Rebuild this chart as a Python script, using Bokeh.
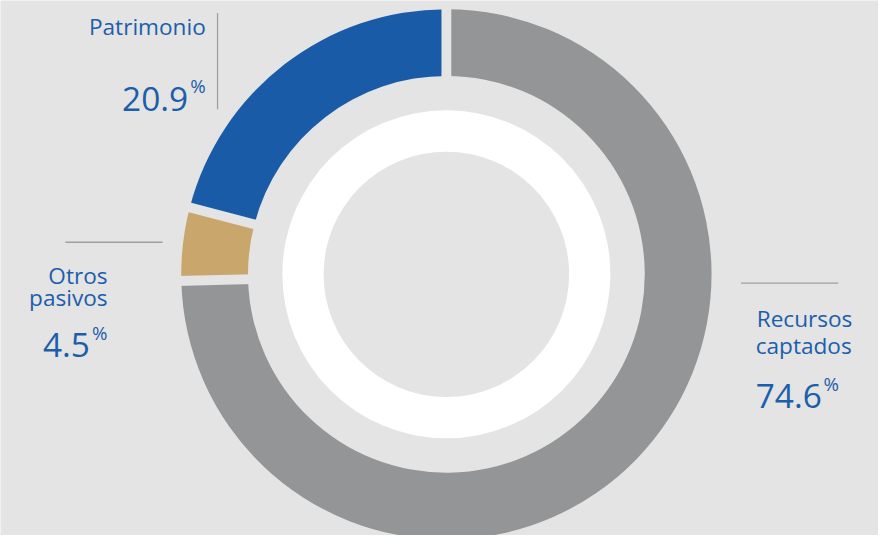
import numpy as np
from bokeh.plotting import figure
from bokeh.models import Range1d
from bokeh.core.properties import value
from bokeh.embed import file_html
from bokeh.resources import INLINE

# ---- data ----
categories = ["Patrimonio", "Otros pasivos", "Recursos captados"]
shares = [20.9, 4.5, 74.6]
share_labels = ["20.9", "4.5", "74.6"]
colors = ["#1a5ba8", "#c9a66b", "#949597"]

BG = "#e3e4e3"
TXT = "#1b5eab"
LINE = "#a0a0a0"
FONT = "Open Sans"

W, H = 878, 535
RW, RH = 894, 551          # reference canvas units
S = W / RW                 # px per unit

p = figure(width=W, height=H, x_range=Range1d(0, RW), y_range=Range1d(0, RH),
           output_backend="svg", toolbar_location=None, min_border=0,
           x_axis_type=None, y_axis_type=None)
p.grid.visible = False
p.outline_line_color = None
p.background_fill_color = BG
p.border_fill_color = BG

CX, CY = 454, RH - 282
R_OUT, R_IN = 270, 202
W_OUT, W_IN = 167, 125

# donut wedges: start at top, counter-clockwise
fr = np.array(shares) / sum(shares)
cum = np.concatenate([[0], np.cumsum(fr)])
start = np.pi / 2 + 2 * np.pi * cum[:-1]
end = np.pi / 2 + 2 * np.pi * cum[1:]
p.annular_wedge(x=CX, y=CY, inner_radius=R_IN, outer_radius=R_OUT,
                start_angle=start, end_angle=end, fill_color=colors,
                line_color=None)

# gaps between slices
b = start
p.segment(x0=CX + (R_IN - 5) * np.cos(b), y0=CY + (R_IN - 5) * np.sin(b),
          x1=CX + (R_OUT + 5) * np.cos(b), y1=CY + (R_OUT + 5) * np.sin(b),
          line_color=BG, line_width=10 * S)

# inner white ring
p.circle(x=[CX], y=[CY], radius=W_OUT, fill_color="white", line_color=None)
p.circle(x=[CX], y=[CY], radius=W_IN, fill_color=BG, line_color=None)

def Y(v):
    return RH - v

def txt(x, y, s, size, align="left"):
    p.text(x=[x], y=[Y(y)], text=[s], text_font=value(FONT),
           text_font_size=f"{size * S:.1f}px", text_color=TXT, text_align=align,
           text_baseline="alphabetic")

LBL, NUM, PCT = 23, 34, 19

# Patrimonio
txt(209, 27, "Patrimonio", LBL, "right")
txt(191, 101, share_labels[0], NUM, "right")
txt(209, 88, "%", PCT, "right")
p.segment(x0=[221], y0=[Y(13)], x1=[221], y1=[Y(112)], line_color=LINE, line_width=1.3)

# Otros pasivos
p.segment(x0=[66], y0=[Y(249)], x1=[165], y1=[Y(249)], line_color=LINE, line_width=1.3)
txt(109, 283, "Otros", LBL, "right")
txt(109, 306, "pasivos", LBL, "right")
txt(91, 355, share_labels[1], NUM, "right")
txt(109, 342, "%", PCT, "right")

# Recursos captados
p.segment(x0=[754], y0=[Y(291)], x1=[853], y1=[Y(291)], line_color=LINE, line_width=1.3)
txt(770, 328, "Recursos", LBL, "left")
txt(769, 355, "captados", LBL, "left")
txt(769, 407, share_labels[2], NUM, "left")
txt(838, 394, "%", PCT, "left")

open("out.html", "w").write(file_html(p, INLINE))
